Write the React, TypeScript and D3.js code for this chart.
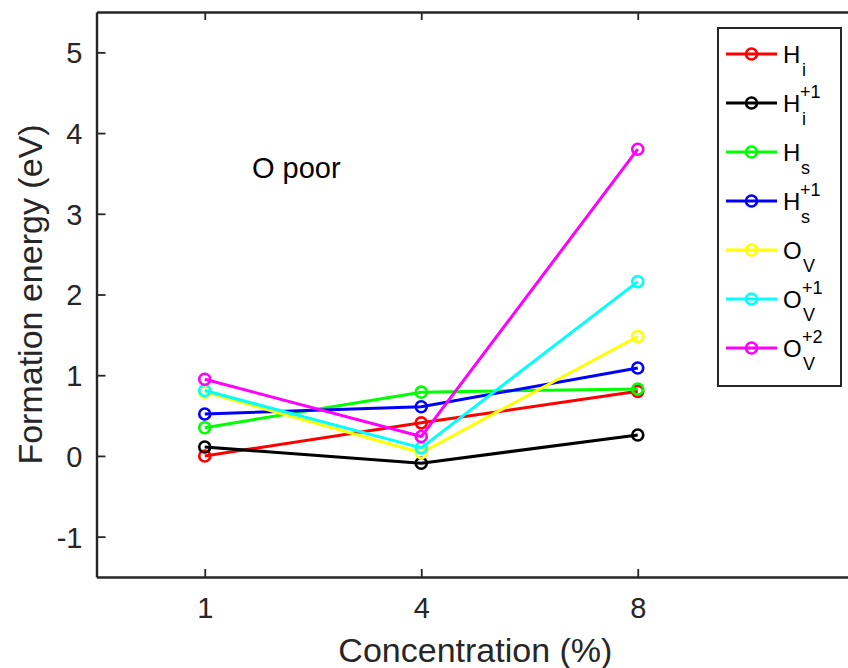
import React, { useEffect, useRef } from 'react';
import * as d3 from 'd3';

// concentration categories (%), plotted at positions 1, 2, 3
const concentrations = ['1', '4', '8'];
const yTicks = [-1, 0, 1, 2, 3, 4, 5];

// formation energies (eV), O poor
const hI = [0.0, 0.41, 0.80];
const hIPlus1 = [0.11, -0.09, 0.26];
const hS = [0.35, 0.79, 0.83];
const hSPlus1 = [0.52, 0.61, 1.09];
const oV = [0.79, 0.04, 1.48];
const oVPlus1 = [0.81, 0.10, 2.16];
const oVPlus2 = [0.95, 0.24, 3.80];

const seriesNames = [
  { base: 'H', sub: 'i', sup: '' },
  { base: 'H', sub: 'i', sup: '+1' },
  { base: 'H', sub: 's', sup: '' },
  { base: 'H', sub: 's', sup: '+1' },
  { base: 'O', sub: 'V', sup: '' },
  { base: 'O', sub: 'V', sup: '+1' },
  { base: 'O', sub: 'V', sup: '+2' },
];
const seriesValues = [hI, hIPlus1, hS, hSPlus1, oV, oVPlus1, oVPlus2];
const seriesColors = ['#ff0000', '#000000', '#00ff00', '#0000ff', '#ffff00', '#00ffff', '#ff00ff'];

const FONT = '"Liberation Sans", Arial, Helvetica, sans-serif';
const AXIS_COLOR = '#262626';

export default function App() {
  const ref = useRef<SVGSVGElement>(null);

  useEffect(() => {
    const width = 848, height = 668;
    const left = 96.5, top = 12, bottom = 577;
    const step = 216.5;
    const svg = d3.select(ref.current);
    svg.selectAll('*').remove();

    const x = d3.scaleLinear().domain([0.5, 4.0]).range([left, left + 3.5 * step]);
    const y = d3.scaleLinear().domain([-1.5, 5.5]).range([bottom, top]);

    svg.append('rect').attr('width', width).attr('height', height).attr('fill', '#fff');

    // lines + markers
    const line = d3.line<number>()
      .x((d, i) => x(i + 1))
      .y(d => y(d));

    seriesValues.forEach((vals, k) => {
      const g = svg.append('g');
      g.append('path')
        .datum(vals)
        .attr('d', line)
        .attr('fill', 'none')
        .attr('stroke', seriesColors[k])
        .attr('stroke-width', 3)
        .attr('stroke-linejoin', 'round');
      g.selectAll('circle')
        .data(vals)
        .enter()
        .append('circle')
        .attr('cx', (d, i) => x(i + 1))
        .attr('cy', d => y(d))
        .attr('r', 5.5)
        .attr('fill', 'none')
        .attr('stroke', seriesColors[k])
        .attr('stroke-width', 2.6);
    });

    // axes
    const styleAxis = (g: any) => {
      g.select('.domain').attr('stroke', AXIS_COLOR).attr('stroke-width', 2.4);
      g.selectAll('.tick line').attr('stroke', AXIS_COLOR).attr('stroke-width', 1.8);
      g.selectAll('.tick text')
        .attr('fill', AXIS_COLOR)
        .style('font-family', FONT)
        .style('font-size', '29px');
    };

    svg.append('g')
      .attr('transform', `translate(${left},0)`)
      .call(d3.axisLeft(y).tickValues(yTicks).tickFormat((d: any) => String(d)).tickSize(-9).tickSizeOuter(0).tickPadding(14))
      .call(styleAxis)
      .call(g => g.selectAll('.tick text').attr('dy', '0.36em'));

    svg.append('g')
      .attr('transform', `translate(0,${bottom})`)
      .call(d3.axisBottom(x).tickValues([1, 2, 3]).tickFormat((d: any) => concentrations[d - 1]).tickSize(-8).tickSizeOuter(0).tickPadding(20))
      .call(styleAxis);

    svg.append('g')
      .attr('transform', `translate(0,${top})`)
      .call(d3.axisTop(x).tickValues([1, 2, 3]).tickFormat(() => '').tickSize(-8).tickSizeOuter(0))
      .call(styleAxis);

    // axis labels
    svg.append('text')
      .attr('x', (left + left + 3.5 * step) / 2)
      .attr('y', 662)
      .attr('text-anchor', 'middle')
      .attr('fill', AXIS_COLOR)
      .style('font-family', FONT)
      .style('font-size', '34px')
      .text('Concentration (%)');

    svg.append('text')
      .attr('transform', `translate(42,${(top + bottom) / 2}) rotate(-90)`)
      .attr('text-anchor', 'middle')
      .attr('fill', AXIS_COLOR)
      .style('font-family', FONT)
      .style('font-size', '34px')
      .text('Formation energy (eV)');

    svg.append('text')
      .attr('x', 252)
      .attr('y', 178)
      .attr('fill', '#000')
      .style('font-family', FONT)
      .style('font-size', '29px')
      .text('O poor');

    // legend
    const lg = svg.append('g');
    lg.append('rect')
      .attr('x', 718).attr('y', 28)
      .attr('width', 123).attr('height', 358)
      .attr('fill', '#fff')
      .attr('stroke', AXIS_COLOR)
      .attr('stroke-width', 2);

    seriesNames.forEach((s, k) => {
      const ry = 54 + k * 49;
      lg.append('line')
        .attr('x1', 726).attr('x2', 777)
        .attr('y1', ry).attr('y2', ry)
        .attr('stroke', seriesColors[k])
        .attr('stroke-width', 3);
      lg.append('circle')
        .attr('cx', 751.5).attr('cy', ry).attr('r', 5.5)
        .attr('fill', 'none')
        .attr('stroke', seriesColors[k])
        .attr('stroke-width', 2.6);
      const baseW = s.base === 'H' ? 18 : 20;
      lg.append('text')
        .attr('x', 783).attr('y', ry + 9)
        .style('font-family', FONT).style('font-size', '24px')
        .text(s.base);
      lg.append('text')
        .attr('x', 783 + baseW + (s.sub === 'i' ? 1 : 0)).attr('y', ry + 22)
        .style('font-family', FONT).style('font-size', '18px')
        .text(s.sub);
      if (s.sup) {
        lg.append('text')
          .attr('x', 783 + baseW - 1).attr('y', ry - 5)
          .style('font-family', FONT).style('font-size', '18px')
          .text(s.sup);
      }
    });
  }, []);

  return (
    <svg ref={ref} width={848} height={668} style={{ position: 'absolute', left: 0, top: 0 }} />
  );
}
